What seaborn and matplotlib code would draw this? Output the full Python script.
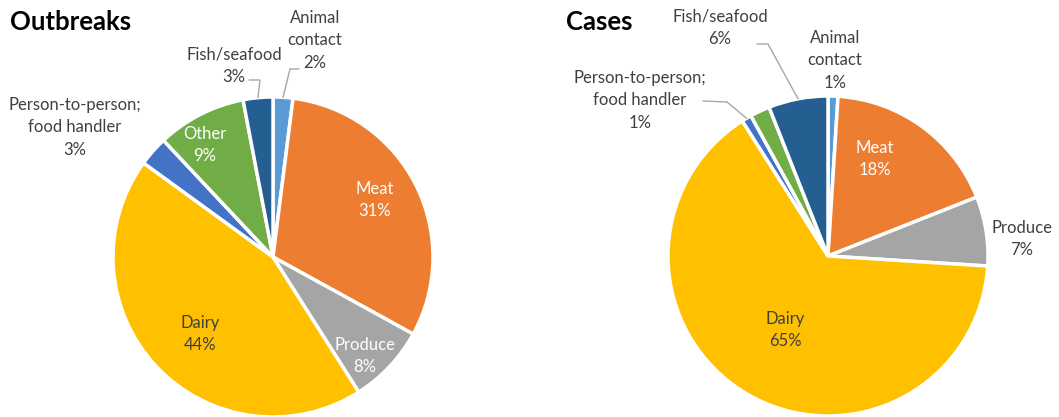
import matplotlib
matplotlib.use("Agg")
import matplotlib.pyplot as plt
import numpy as np
import seaborn as sns

# Food-source categories, in clockwise order from 12 o'clock
categories = ["Animal contact", "Meat", "Produce", "Dairy",
              "Person-to-person; food handler", "Other", "Fish/seafood"]
outbreaks_pct = [2, 31, 8, 44, 3, 9, 3]
cases_pct = [1, 18, 7, 65, 1, 2, 6]

outbreaks_labels = ["Animal\ncontact\n2%", "Meat\n31%", "Produce\n8%", "Dairy\n44%",
                    "Person-to-person;\nfood handler\n3%", "Other\n9%", "Fish/seafood\n3%"]
cases_labels = ["Animal\ncontact\n1%", "Meat\n18%", "Produce\n7%", "Dairy\n65%",
                "Person-to-person;\nfood handler\n1%", "", "Fish/seafood\n6%"]

sns.set_theme(style="white")
plt.rcParams["font.family"] = ["Lato", "DejaVu Sans"]

palette = sns.color_palette(["#5B9BD5", "#ED7D31", "#A5A5A5", "#FFC000",
                             "#4472C4", "#70AD47", "#255E91"])

W, H = 1059, 417
fig = plt.figure(figsize=(W / 100, H / 100), dpi=100)
R_PX = 160


def make_axes(cx, cy):
    ax = fig.add_axes([(cx - R_PX) / W, (H - cy - R_PX) / H, 2 * R_PX / W, 2 * R_PX / H])
    ax.axis("off")
    return ax


def px(ax_center, x, y):
    cx, cy = ax_center
    return (x - cx) / R_PX, (cy - y) / R_PX


def draw_pie(ax, values, labels, label_pos, text_colors, leaders, center):
    wedges, _ = ax.pie(values, colors=palette, startangle=90, counterclock=False,
                       radius=1.0, wedgeprops=dict(edgecolor="white", linewidth=2.5))
    ax.set_xlim(-1, 1)
    ax.set_ylim(-1, 1)
    for w, lab, pos, col in zip(wedges, labels, label_pos, text_colors):
        if not lab:
            continue
        x, y = px(center, *pos)
        ax.text(x, y, lab, ha="center", va="center", fontsize=12, color=col,
                linespacing=1.5, clip_on=False)
    # leader lines from the wedge edge to an elbow beside the label
    for idx, pts in leaders.items():
        w = wedges[idx]
        mid = np.deg2rad((w.theta1 + w.theta2) / 2)
        xs = [px(center, *p)[0] for p in pts] + [np.cos(mid)]
        ys = [px(center, *p)[1] for p in pts] + [np.sin(mid)]
        ax.plot(xs, ys, color="#A6A6A6", lw=1, clip_on=False)


dark = "#404040"
white = "white"

# Outbreaks pie
c1 = (273, 257)
ax1 = make_axes(*c1)
draw_pie(ax1, outbreaks_pct, outbreaks_labels,
         [(315, 40), (375, 200), (365, 356), (200, 334), (75, 127), (205, 145), (234, 66)],
         [dark, white, white, dark, dark, white, dark],
         {0: [(299, 69), (290, 69)], 6: [(249, 80), (260, 80)]}, c1)

# Cases pie
c2 = (828, 256)
ax2 = make_axes(*c2)
draw_pie(ax2, cases_pct, cases_labels,
         [(835, 60), (875, 159), (1022, 239), (785, 330), (640, 100), (0, 0), (720, 28)],
         [dark, white, dark, dark, dark, white, dark],
         {4: [(703, 101), (727, 102)], 6: [(757, 44), (768, 44)]}, c2)

fig.text(10 / W, 1 - 22 / H, "Outbreaks", fontsize=18.5, fontweight="bold",
         color="black", ha="left", va="center")
fig.text(566 / W, 1 - 22 / H, "Cases", fontsize=18.5, fontweight="bold",
         color="black", ha="left", va="center")

fig.savefig("out.png", dpi=100)
